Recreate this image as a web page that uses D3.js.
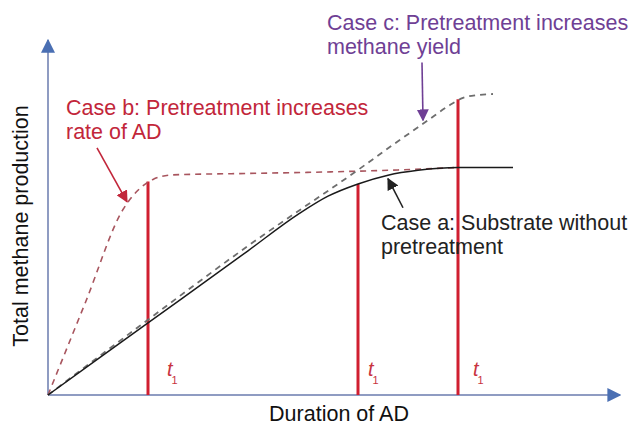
<!DOCTYPE html>
<html>
<head>
<meta charset="utf-8">
<script src="https://cdn.jsdelivr.net/npm/d3@7"></script>
<style>
  body { margin: 0; background: #fff; }
  text { font-family: "Liberation Sans", Arial, sans-serif; }
</style>
</head>
<body>
<svg id="chart"></svg>
<script>
const width = 632;
const height = 427;

// curves, in arbitrary units (duration 0-100, production 0-100)
const caseA = [[0, 0], [20, 20.6], [40, 41.2], [50, 51.6], [56, 56.8], [62, 60.3], [68, 62.8], [74, 64.2], [82, 65], [93, 65]];
const caseB = [[0, 0], [7.5, 26.5], [15, 53], [18, 58.5], [21, 61.6], [25, 62.9], [40, 63.3], [55, 63.7], [70, 64.3], [82, 65]];
const caseC = [[0, 0], [20, 21.5], [40, 42.6], [62, 64.3], [70, 72.5], [76, 78.5], [80, 82.5], [83, 84.9], [86, 85.7], [89, 86]];

// t1 markers
const t1X = [20, 62, 82];
const t1Top = [61, 60.3, 84.5];
const t1LabelX = [23.8, 64, 85];

// annotation arrows [tail, tip]
const arrowB = [[9.8, 70.6], [15.8, 55.2]];
const arrowC = [[74.8, 95], [75, 78.5]];
const arrowA = [[71, 53.5], [68, 61.8]];

const xScale = d3.scaleLinear().domain([0, 100]).range([48, 548]);
const yScale = d3.scaleLinear().domain([0, 100]).range([395, 45]);

let svg = d3.select("#chart")
  .attr("width", width)
  .attr("height", height);

const defs = svg.append("defs");
function addHead(id, color, size) {
  defs.append("marker")
    .attr("id", id)
    .attr("viewBox", "0 0 10 10")
    .attr("refX", 9).attr("refY", 5)
    .attr("markerUnits", "userSpaceOnUse")
    .attr("markerWidth", size).attr("markerHeight", size)
    .attr("orient", "auto")
    .append("path")
    .attr("d", "M0,0 L10,5 L0,10 z")
    .attr("fill", color);
}
addHead("headAxis", "#4a6fb3", 14);
addHead("headB", "#c2263a", 12);
addHead("headC", "#6f3f95", 12);
addHead("headA", "#222", 12);

// axes
svg.append("line")
  .attr("x1", xScale(0)).attr("y1", yScale(0))
  .attr("x2", xScale(114.4)).attr("y2", yScale(0))
  .attr("stroke", "#8f9cc2").attr("stroke-width", 2)
  .attr("marker-end", "url(#headAxis)");
svg.append("line")
  .attr("x1", xScale(0)).attr("y1", yScale(0))
  .attr("x2", xScale(0)).attr("y2", yScale(101.4))
  .attr("stroke", "#8f9cc2").attr("stroke-width", 2)
  .attr("marker-end", "url(#headAxis)");

const line = d3.line()
  .x(d => xScale(d[0]))
  .y(d => yScale(d[1]))
  .curve(d3.curveMonotoneX);

// red t1 lines
svg.selectAll(".t1line")
  .data(t1X)
  .enter()
  .append("line")
  .attr("x1", d => xScale(d)).attr("x2", d => xScale(d))
  .attr("y1", yScale(0))
  .attr("y2", (d, i) => yScale(t1Top[i]))
  .attr("stroke", "#d01f30")
  .attr("stroke-width", 3);

svg.append("path")
  .datum(caseB)
  .attr("d", line)
  .attr("fill", "none")
  .attr("stroke", "#a8555e")
  .attr("stroke-width", 1.6)
  .attr("stroke-dasharray", "6,5");

svg.append("path")
  .datum(caseC)
  .attr("d", line)
  .attr("fill", "none")
  .attr("stroke", "#6e6e6e")
  .attr("stroke-width", 1.8)
  .attr("stroke-dasharray", "6,5");

svg.append("path")
  .datum(caseA)
  .attr("d", line)
  .attr("fill", "none")
  .attr("stroke", "#1a1a1a")
  .attr("stroke-width", 1.5);

// t1 labels
t1LabelX.forEach(function (d) {
  const lbl = svg.append("text")
    .attr("x", xScale(d))
    .attr("y", 376)
    .attr("fill", "#c8343f");
  lbl.append("tspan").attr("font-style", "italic").attr("font-size", "20px").text("t");
  lbl.append("tspan").attr("font-size", "11px").attr("dx", -1).attr("dy", 8).text("1");
});

// arrows
function drawArrow(pts, color, head) {
  svg.append("line")
    .attr("x1", xScale(pts[0][0])).attr("y1", yScale(pts[0][1]))
    .attr("x2", xScale(pts[1][0])).attr("y2", yScale(pts[1][1]))
    .attr("stroke", color).attr("stroke-width", 1.6)
    .attr("marker-end", `url(#${head})`);
}
drawArrow(arrowB, "#c2263a", "headB");
drawArrow(arrowC, "#6f3f95", "headC");
drawArrow(arrowA, "#222", "headA");

// annotation text
function label(lines, x, y, color) {
  const t = svg.append("text")
    .attr("x", x).attr("y", y)
    .attr("font-size", "21.5px")
    .attr("fill", color);
  lines.forEach((s, i) => {
    t.append("tspan").attr("x", x).attr("dy", i === 0 ? 0 : 24).text(s);
  });
}
label(["Case b: Pretreatment increases", "rate of AD"], 66, 115, "#c2263a");
label(["Case c: Pretreatment increases", "methane yield"], 327, 30, "#6f3f95");
label(["Case a: Substrate without", "pretreatment"], 381, 230, "#222");

// axis titles
svg.append("text")
  .attr("x", 339).attr("y", 421)
  .attr("text-anchor", "middle")
  .attr("font-size", "21.5px")
  .attr("fill", "#111")
  .text("Duration of AD");

svg.append("text")
  .attr("transform", "rotate(-90)")
  .attr("x", -226).attr("y", 28)
  .attr("text-anchor", "middle")
  .attr("font-size", "21.5px")
  .attr("fill", "#111")
  .text("Total methane production");
</script>
</body>
</html>
